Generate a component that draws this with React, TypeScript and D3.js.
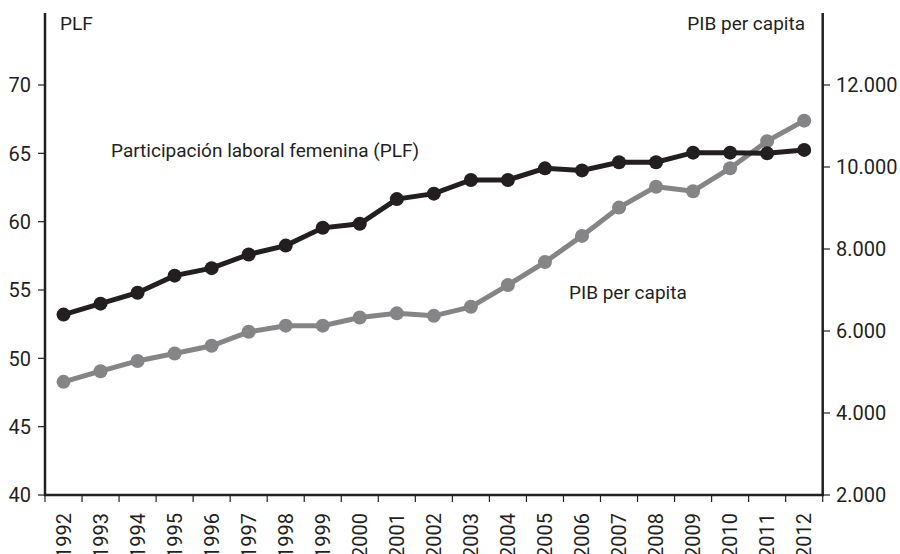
import React from 'react';
import {scaleBand, scaleLinear, line} from 'd3';

// años y series
const years = ['1992','1993','1994','1995','1996','1997','1998','1999','2000','2001','2002',
  '2003','2004','2005','2006','2007','2008','2009','2010','2011','2012'];
const plf = [53.2,54.0,54.8,56.05,56.6,57.6,58.25,59.55,59.85,61.65,62.05,
  63.05,63.05,63.9,63.75,64.35,64.35,65.05,65.05,65.0,65.25];
const pib = [4760,5020,5270,5450,5640,5980,6130,6130,6330,6430,6370,
  6590,7120,7680,8320,9010,9520,9410,9970,10630,11130];

const leftTicks = [40,45,50,55,60,65,70];
const rightTicks = [2000,4000,6000,8000,10000,12000];

const W = 900, H = 554;
const FONT = 'Roboto, sans-serif';
const TXT = '#231f20';
const FS = 19;

const App = () => {
  const x = scaleBand().domain(years).range([45, 822.7]).padding(0);
  const yL = scaleLinear().domain([40, 70]).range([495, 85]);
  const yR = scaleLinear().domain([2000, 12000]).range([495, 85]);
  const cx = (d: string) => (x(d) as number) + x.bandwidth() / 2;

  const plfLine = line<number>().x((_, i) => cx(years[i])).y(v => yL(v));
  const pibLine = line<number>().x((_, i) => cx(years[i])).y(v => yR(v));

  // bordes de las bandas para las marcas del eje x
  const edges = years.map(y => x(y) as number).concat([x.range()[1]]);

  return (
    <svg width={W} height={H} style={{position: 'absolute', left: 0, top: 0}}
         fontFamily={FONT} fill={TXT}>
      <rect width={W} height={H} fill="#fff"/>
      {/* eje izquierdo */}
      <line x1={45} x2={45} y1={13} y2={496} stroke={TXT} strokeWidth={2.5}/>
      {leftTicks.map(t => (
        <g key={t}>
          <line x1={38} x2={45} y1={yL(t)} y2={yL(t)} stroke={TXT} strokeWidth={1.2}/>
          <text x={31} y={yL(t)} dy="0.36em" textAnchor="end" fontSize={FS + 1}>{t}</text>
        </g>
      ))}
      {/* eje derecho */}
      <line x1={822.7} x2={822.7} y1={13} y2={496} stroke={TXT} strokeWidth={2.5}/>
      {rightTicks.map(t => (
        <g key={t}>
          <line x1={822.7} x2={830} y1={yR(t)} y2={yR(t)} stroke={TXT} strokeWidth={1.2}/>
          <text x={836} y={yR(t)} dy="0.36em" fontSize={FS + 1}>{(t / 1000).toFixed(3)}</text>
        </g>
      ))}
      {/* eje inferior */}
      <line x1={44} x2={824} y1={495} y2={495} stroke={TXT} strokeWidth={2.5}/>
      {edges.map((e, i) => (
        <line key={i} x1={e} x2={e} y1={495} y2={502} stroke={TXT} strokeWidth={1.2}/>
      ))}
      {years.map(y => (
        <text key={y} transform={`translate(${cx(y)},513) rotate(-90)`} dy="0.36em"
              textAnchor="end" fontSize={FS + 1}>{y}</text>
      ))}
      {/* series */}
      <path d={pibLine(pib) || ''} fill="none" stroke="#858587" strokeWidth={5}/>
      {pib.map((v, i) => (
        <circle key={i} cx={cx(years[i])} cy={yR(v)} r={7} fill="#858587"/>
      ))}
      <path d={plfLine(plf) || ''} fill="none" stroke={TXT} strokeWidth={5}/>
      {plf.map((v, i) => (
        <circle key={i} cx={cx(years[i])} cy={yL(v)} r={7} fill={TXT}/>
      ))}
      {/* textos */}
      <text x={60} y={30} fontSize={FS}>PLF</text>
      <text x={805} y={30} textAnchor="end" fontSize={FS}>PIB per capita</text>
      <text x={111} y={157} fontSize={FS}>Participación laboral femenina (PLF)</text>
      <text x={569} y={299} fontSize={FS}>PIB per capita</text>
    </svg>
  );
};

export default App;
